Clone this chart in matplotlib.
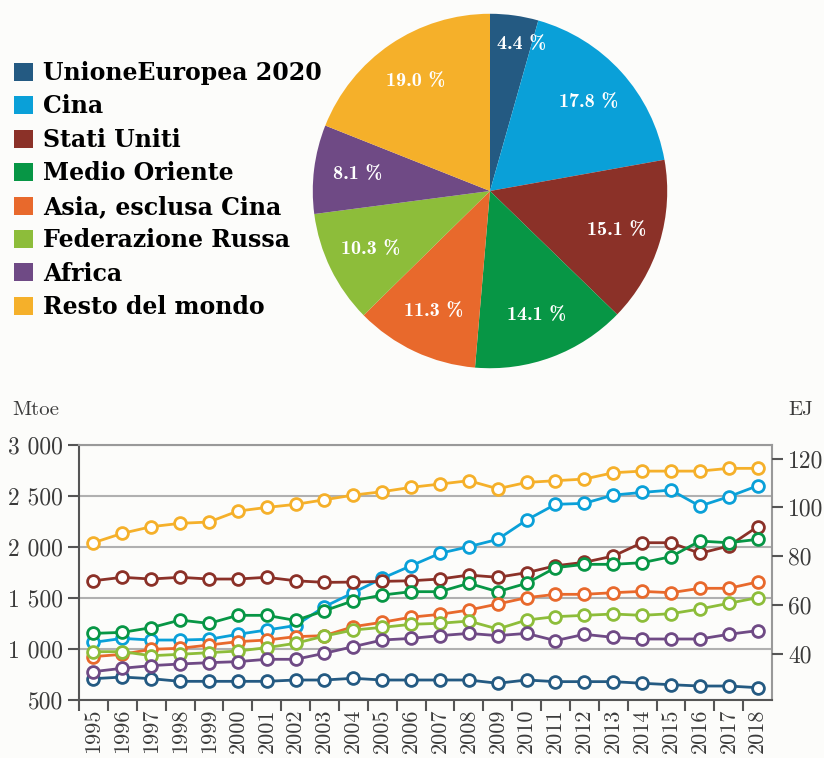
import numpy as np
import matplotlib.pyplot as plt

# pie data (share of world energy consumption)
regioni = ['UnioneEuropea 2020', 'Cina', 'Stati Uniti', 'Medio Oriente',
           'Asia, esclusa Cina', 'Federazione Russa', 'Africa', 'Resto del mondo']
quote = [4.4, 17.8, 15.1, 14.1, 11.3, 10.3, 8.1, 19.0]
colori = ['#245a82', '#0aa0d8', '#8b3128', '#079645',
          '#e8692c', '#8dbd3a', '#6f4a85', '#f5b02a']

# line data, Mtoe
anni = list(range(1995, 2019))
ue = [709, 725, 709, 683, 683, 683, 683, 696, 696, 713, 696, 696,
      696, 696, 664, 696, 680, 680, 680, 664, 650, 637, 637, 621]
cina = [1065, 1104, 1088, 1088, 1095, 1144, 1186, 1230, 1415, 1552, 1693, 1816,
        1938, 2003, 2075, 2264, 2418, 2428, 2509, 2535, 2558, 2401, 2493, 2600]
usa = [1669, 1703, 1686, 1703, 1686, 1686, 1703, 1669, 1653, 1656, 1663, 1669,
       1686, 1725, 1703, 1748, 1816, 1850, 1911, 2042, 2042, 1938, 2009, 2199]
medio_oriente = [1153, 1163, 1209, 1284, 1251, 1330, 1330, 1280, 1375, 1473, 1529, 1562,
                 1562, 1644, 1562, 1644, 1797, 1830, 1830, 1846, 1905, 2058, 2042, 2075]
asia = [925, 948, 997, 1007, 1039, 1072, 1088, 1121, 1131, 1219, 1262, 1312,
        1340, 1382, 1441, 1503, 1536, 1536, 1552, 1565, 1552, 1595, 1595, 1657]
russia = [974, 974, 934, 948, 964, 980, 1013, 1056, 1127, 1186, 1212, 1242,
          1252, 1274, 1196, 1284, 1317, 1330, 1343, 1330, 1346, 1392, 1448, 1503]
africa = [778, 811, 837, 853, 866, 876, 899, 899, 958, 1023, 1088, 1104,
          1131, 1153, 1131, 1153, 1082, 1144, 1114, 1098, 1098, 1098, 1144, 1180]
resto = [2042, 2134, 2199, 2232, 2245, 2352, 2388, 2418, 2463, 2509, 2542, 2585,
         2617, 2650, 2571, 2633, 2650, 2666, 2728, 2744, 2744, 2744, 2771, 2771]
serie = [ue, cina, usa, medio_oriente, asia, russia, africa, resto]

mtoe_ticks = [500, 1000, 1500, 2000, 2500, 3000]
mtoe_labels = ['500', '1 000', '1 500', '2 000', '2 500', '3 000']
ej_ticks = [40, 60, 80, 100, 120]
EJ_PER_MTOE = 0.041868

bg = '#fcfcfa'
serif = 'DejaVu Serif'
cm = ['cmr10', 'DejaVu Serif']
txt_col = '#3a3a3a'

fig = plt.figure(figsize=(8.24, 7.58), dpi=100, facecolor=bg)

# --- pie ---
W, H = 824, 758
axp = fig.add_axes([311 / W, 1 - 370 / H, 358 / W, 358 / H])
wedges, txts, auto = axp.pie(quote, colors=colori, startangle=90, counterclock=False,
                             autopct=lambda p: '', pctdistance=0.75)
for t, q in zip(auto, quote):
    t.set_text(f'{q:.1f} %')
    t.set_color('white')
    t.set_fontsize(14.5)
    t.set_family(['cmb10', 'DejaVu Serif'])
auto[0].set_position((0.85 * np.cos(np.radians(78)), 0.85 * np.sin(np.radians(78))))
axp.set_xlim(-1.01, 1.01)
axp.set_ylim(-1.01, 1.01)
axp.set_aspect('equal')

fig.legend(wedges, regioni, loc='upper left', bbox_to_anchor=(0.006, 0.932),
           frameon=False, prop=dict(family=serif, weight='bold', size=17),
           handlelength=0.8, handleheight=0.8, labelspacing=0.4, handletextpad=0.4,
           borderaxespad=0)

# --- lines ---
ax = fig.add_axes([79 / W, 1 - 700 / H, (772 - 79) / W, (700 - 445) / H])
ax.set_facecolor(bg)
x = np.arange(len(anni))
for s, c in zip(serie, colori):
    ax.plot(x, s, color=c, lw=2, marker='o', ms=8.5, mfc='white', mec=c, mew=2, zorder=3)

ax.set_xlim(-0.5, len(anni) - 0.5)
ax.set_ylim(500, 3000)
ax.set_yticks(mtoe_ticks)
ax.set_yticklabels(mtoe_labels, family=cm, fontsize=17, color=txt_col)
ax.set_xticks(x - 0.5, minor=False)
ax.set_xticklabels([])
ax.set_xticks(x, minor=True)
ax.set_xticklabels([str(a) for a in anni], minor=True, rotation=90,
                   family=cm, fontsize=16, color=txt_col)
ax.tick_params(axis='x', which='minor', length=0, pad=6)
ax.tick_params(axis='x', which='major', length=8, width=1.5, color='#555555')
ax.tick_params(axis='y', length=8, width=1.5, color='#555555')
ax.grid(axis='y', color='#b0b0b0', lw=1.5, zorder=0)
for side in ['left', 'bottom']:
    ax.spines[side].set_color('#555555')
    ax.spines[side].set_linewidth(1.5)
for side in ['top', 'right']:
    ax.spines[side].set_color('#999999')
    ax.spines[side].set_linewidth(1.5)

ax2 = ax.twinx()
ax2.set_ylim(500 * EJ_PER_MTOE, 3000 * EJ_PER_MTOE)
ax2.set_yticks(ej_ticks)
ax2.set_yticklabels([str(v) for v in ej_ticks], family=cm, fontsize=17, color=txt_col)
ax2.tick_params(axis='y', length=8, width=1.5, color='#555555')
for sp in ax2.spines.values():
    sp.set_visible(False)

fig.text(12 / W, 1 - 410 / H, 'Mtoe', family=cm, fontsize=15, color=txt_col, va='center')
fig.text(788 / W, 1 - 410 / H, 'EJ', family=cm, fontsize=15, color=txt_col, va='center')

fig.savefig('out.png', dpi=100, facecolor=bg)
